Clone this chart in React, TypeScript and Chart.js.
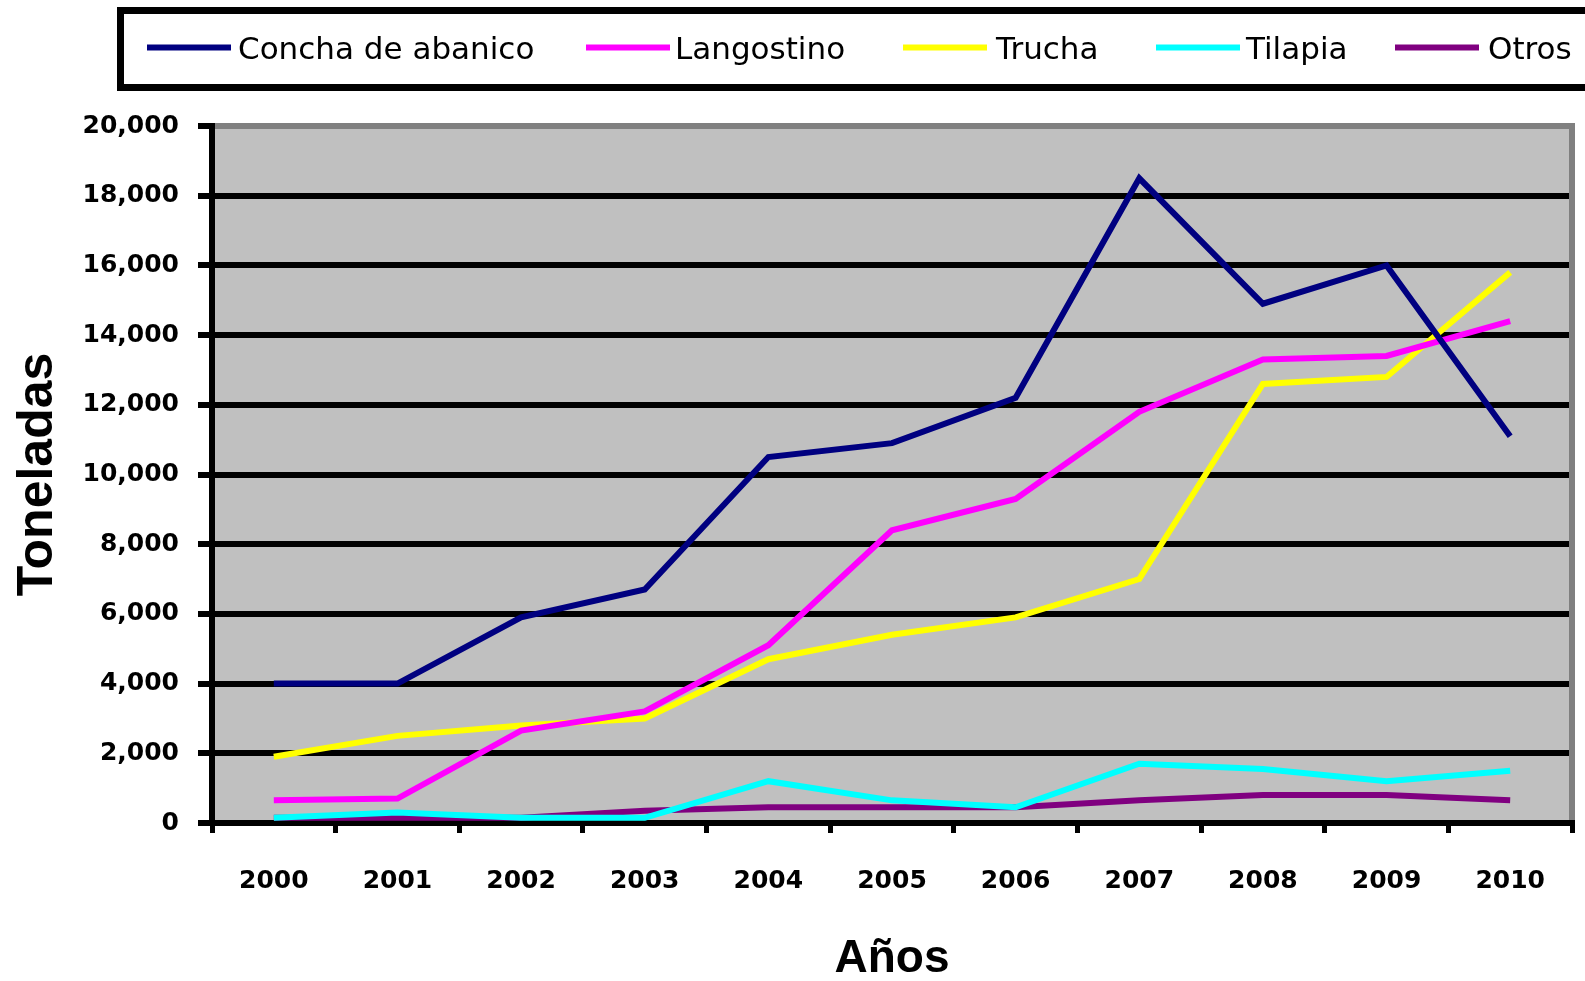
import React, { useEffect, useRef } from "react";
import { Chart, registerables } from "chart.js";

Chart.register(...registerables);

// ---- Data ----
const years = ["2000", "2001", "2002", "2003", "2004", "2005", "2006", "2007", "2008", "2009", "2010"];
const conchaDeAbanico = [4000, 4000, 5900, 6700, 10500, 10900, 12200, 18500, 14900, 16000, 11100];
const langostino = [650, 700, 2650, 3200, 5100, 8400, 9300, 11800, 13300, 13400, 14400];
const trucha = [1900, 2500, 2800, 3000, 4700, 5400, 5900, 7000, 12600, 12800, 15800];
const tilapia = [150, 300, 150, 150, 1200, 650, 450, 1700, 1550, 1200, 1500];
const otros = [150, 150, 150, 350, 450, 450, 450, 650, 800, 800, 650];
const seriesNames = ["Concha de abanico", "Langostino", "Trucha", "Tilapia", "Otros"];
const seriesColors = ["#000080", "#FF00FF", "#FFFF00", "#00FFFF", "#800080"];
const yMin = 0;
const yMax = 20000;
const yStep = 2000;
const xTitle = "Años";
const yTitle = "Toneladas";

// ---- Layout constants (legend) ----
const legendLineX = [147, 586, 903, 1156, 1395];
const legendTextX = [238, 675, 996, 1246, 1488];

const plotPlugin = {
  id: "plotDecor",
  beforeDraw(chart: any) {
    const { ctx, chartArea: a } = chart;
    ctx.save();
    ctx.fillStyle = "#C0C0C0";
    ctx.fillRect(a.left, a.top, a.right - a.left, a.bottom - a.top);
    ctx.restore();
  },
  beforeDatasetsDraw(chart: any) {
    const { ctx, chartArea: a } = chart;
    ctx.save();
    ctx.strokeStyle = "#808080";
    ctx.lineWidth = 6;
    ctx.lineCap = "butt";
    ctx.beginPath();
    ctx.moveTo(a.left + 3, a.top);
    ctx.lineTo(a.right, a.top);
    ctx.lineTo(a.right, a.bottom - 3);
    ctx.stroke();
    ctx.restore();
  },
  afterDraw(chart: any) {
    const { ctx } = chart;
    ctx.save();
    ctx.strokeStyle = "#000";
    ctx.lineWidth = 7;
    ctx.strokeRect(120.5, 10.5, 1600, 77);
    chart.data.datasets.forEach((ds: any, i: number) => {
      ctx.strokeStyle = ds.borderColor;
      ctx.lineWidth = 6;
      ctx.beginPath();
      ctx.moveTo(legendLineX[i], 47.5);
      ctx.lineTo(legendLineX[i] + 84, 47.5);
      ctx.stroke();
      ctx.fillStyle = "#000";
      ctx.font = '31px "DejaVu Sans"';
      ctx.textBaseline = "alphabetic";
      ctx.textAlign = "left";
      ctx.fillText(ds.label, legendTextX[i], 59);
    });
    ctx.restore();
  },
};

export default function App() {
  const canvasRef = useRef<HTMLCanvasElement | null>(null);

  useEffect(() => {
    const canvas = canvasRef.current;
    if (!canvas) return;
    const seriesValues = [conchaDeAbanico, langostino, trucha, tilapia, otros];
    const chart = new Chart(canvas, {
      type: "line",
      data: {
        labels: years,
        datasets: seriesNames.map((name, i) => ({
          label: name,
          data: seriesValues[i],
          borderColor: seriesColors[i],
          backgroundColor: seriesColors[i],
          borderWidth: 6,
          pointRadius: 0,
          tension: 0,
          fill: false,
        })),
      },
      options: {
        responsive: false,
        animation: false,
        devicePixelRatio: 1,
        layout: { padding: { left: 0, right: 13, top: 126, bottom: 0 } },
        plugins: {
          legend: { display: false },
          tooltip: { enabled: false },
          title: { display: false },
        },
        scales: {
          x: {
            type: "category",
            offset: true,
            afterFit: (s: any) => {
              s.height = 158;
            },
            grid: {
              display: true,
              offset: true,
              drawOnChartArea: false,
              drawTicks: true,
              color: "#000",
              lineWidth: 5,
              tickLength: 10,
            },
            border: { display: true, color: "#000", width: 6 },
            ticks: {
              color: "#000",
              font: { family: "DejaVu Sans", size: 25, weight: "bold" },
              padding: 33,
              maxRotation: 0,
              autoSkip: false,
            },
            title: {
              display: true,
              text: xTitle,
              color: "#000",
              font: { family: "Liberation Sans", size: 46, weight: "bold", lineHeight: 0.95 },
              padding: { top: 0, bottom: 0 },
            },
          },
          y: {
            min: yMin,
            max: yMax,
            afterFit: (s: any) => {
              s.width = 212;
            },
            grid: {
              color: (c: any) => (c.tick && c.tick.value === yMax ? "#808080" : "#000"),
              tickColor: "#000",
              lineWidth: 6,
              tickLength: 14,
              drawTicks: true,
            },
            border: { display: true, color: "#000", width: 6 },
            ticks: {
              stepSize: yStep,
              color: "#000",
              font: { family: "DejaVu Sans", size: 25, weight: "bold" },
              padding: 19,
              callback: (v: any) => Number(v).toLocaleString("en-US"),
            },
            title: {
              display: true,
              text: yTitle,
              color: "#000",
              font: { family: "Liberation Sans", size: 50, weight: "bold" },
              padding: { top: 8, bottom: 0 },
            },
          },
        },
      },
      plugins: [plotPlugin],
    } as any);
    return () => chart.destroy();
  }, []);

  return (
    <div style={{ position: "fixed", left: 0, top: 0, width: 1585, height: 981, background: "#fff" }}>
      <canvas ref={canvasRef} width={1585} height={981} style={{ display: "block" }} />
    </div>
  );
}
